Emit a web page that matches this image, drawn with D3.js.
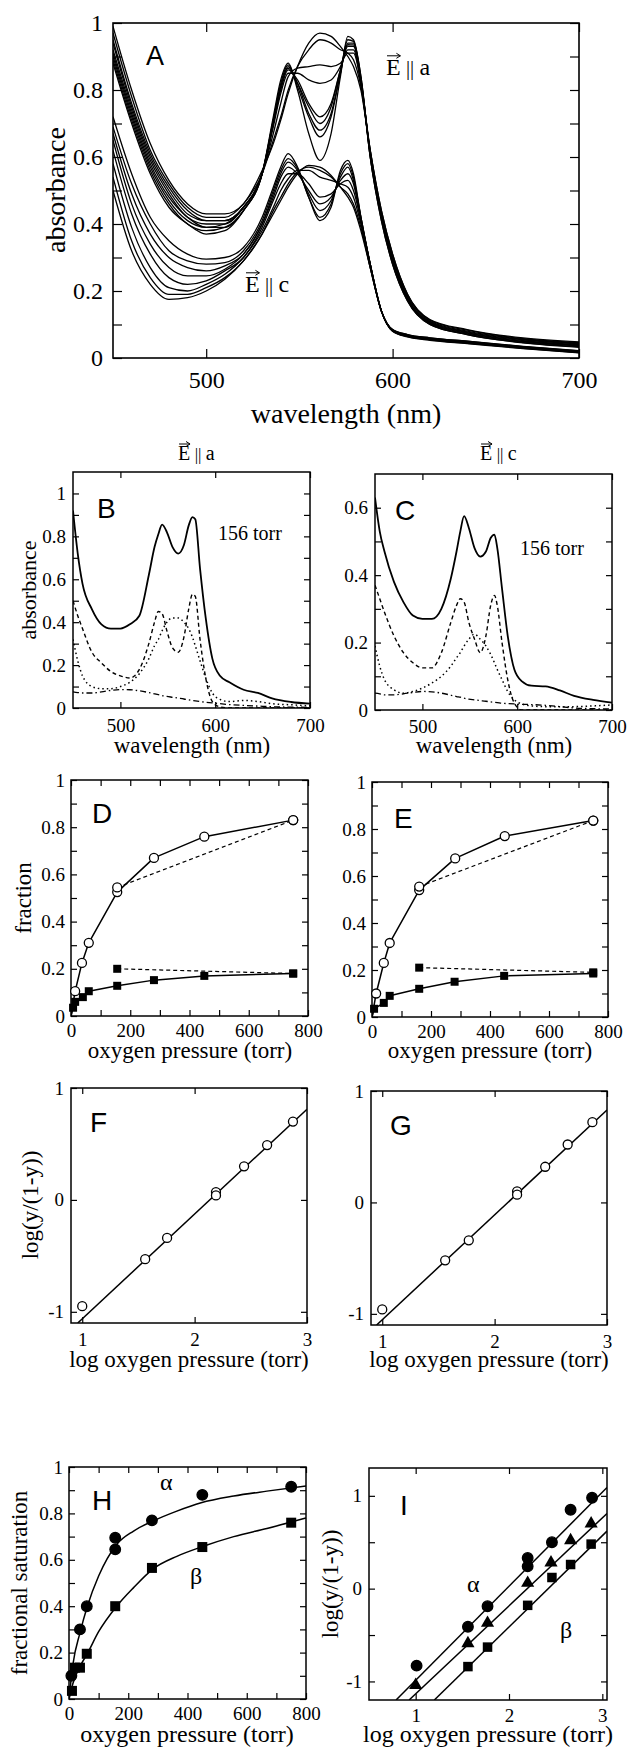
<!DOCTYPE html>
<html>
<head>
<meta charset="utf-8">
<script src="https://cdn.jsdelivr.net/npm/d3@7"></script>
<style>
body { margin: 0; background: #fff; }
svg text { font-family: "Liberation Serif", "Times New Roman", serif; fill: #000; }
svg text.letter { font-family: "Liberation Sans", Arial, sans-serif; }
</style>
</head>
<body>
<svg id="fig" width="628" height="1749"></svg>
<script>
//Data - panel A (wavelength grid, absorbance per curve)
const wlA = [450,460,470,480,490,500,510,520,530,536,540,544,549,555,561,567,572,576,579,583,588,594,600,608,620,640,670,700];
const absEa = [
  [.99,.80,.64,.53,.46,.43,.43,.46,.56,.64,.71,.79,.87,.94,.97,.96,.93,.90,.87,.80,.62,.44,.31,.19,.115,.085,.06,.048],
  [.97,.78,.62,.52,.45,.42,.42,.46,.55,.65,.72,.80,.87,.92,.95,.94,.92,.91,.89,.81,.62,.44,.31,.19,.113,.083,.058,.046],
  [.95,.76,.61,.51,.44,.41,.41,.45,.55,.67,.76,.84,.865,.87,.875,.87,.88,.91,.91,.82,.62,.43,.30,.185,.11,.08,.056,.044],
  [.94,.75,.60,.50,.43,.41,.41,.45,.55,.69,.79,.85,.85,.83,.82,.83,.87,.92,.92,.82,.61,.43,.30,.18,.108,.078,.054,.042],
  [.92,.74,.59,.49,.42,.40,.40,.45,.55,.70,.80,.86,.83,.76,.72,.76,.86,.93,.93,.83,.61,.42,.29,.18,.106,.076,.052,.04],
  [.91,.73,.58,.48,.42,.39,.40,.45,.55,.70,.81,.865,.82,.75,.70,.75,.86,.935,.935,.83,.61,.42,.29,.175,.104,.074,.05,.038],
  [.90,.72,.57,.47,.41,.39,.39,.44,.55,.71,.81,.87,.82,.73,.68,.73,.85,.94,.94,.83,.60,.42,.285,.175,.102,.072,.048,.036],
  [.89,.71,.56,.46,.40,.38,.39,.44,.55,.71,.82,.875,.81,.72,.66,.72,.85,.95,.945,.84,.60,.41,.28,.17,.10,.07,.046,.034],
  [.88,.70,.55,.45,.40,.37,.38,.44,.55,.72,.83,.88,.80,.67,.59,.67,.84,.96,.95,.84,.60,.41,.28,.17,.10,.07,.045,.032]
];
const absEc = [
  [.50,.32,.22,.175,.18,.20,.235,.29,.37,.43,.47,.51,.55,.575,.57,.545,.51,.48,.45,.38,.27,.14,.085,.07,.06,.05,.035,.022],
  [.54,.35,.24,.19,.19,.21,.24,.29,.37,.44,.48,.52,.555,.57,.56,.54,.51,.49,.46,.39,.27,.14,.085,.07,.06,.05,.034,.021],
  [.58,.39,.27,.21,.20,.22,.25,.30,.38,.45,.50,.535,.56,.56,.54,.53,.52,.51,.48,.40,.27,.14,.084,.068,.058,.048,.033,.02],
  [.62,.43,.31,.24,.22,.23,.26,.30,.39,.47,.52,.55,.55,.52,.48,.49,.52,.53,.50,.41,.28,.14,.083,.067,.057,.047,.032,.019],
  [.65,.46,.34,.27,.245,.245,.265,.31,.40,.48,.54,.57,.55,.50,.46,.48,.53,.55,.52,.41,.28,.14,.082,.066,.056,.046,.031,.018],
  [.67,.49,.37,.30,.27,.26,.275,.31,.40,.49,.55,.585,.56,.49,.44,.47,.54,.57,.53,.42,.28,.14,.081,.065,.055,.045,.03,.017],
  [.69,.52,.40,.32,.29,.28,.285,.32,.41,.50,.56,.595,.565,.48,.42,.46,.55,.58,.54,.42,.28,.14,.08,.064,.054,.044,.029,.016],
  [.72,.55,.42,.35,.31,.295,.30,.33,.42,.51,.57,.61,.57,.48,.41,.45,.56,.59,.55,.42,.28,.14,.08,.063,.053,.043,.028,.015]
];

//Data - panels B, C (156 torr decomposition)
const wlBC = [450,455,460,470,480,490,500,510,520,530,536,540,544,549,555,561,567,572,576,579,584,590,597,605,615,630,645,660,680,700];
const bSolid   = [.92,.72,.58,.46,.39,.37,.37,.39,.43,.62,.75,.81,.855,.82,.75,.72,.76,.85,.89,.88,.65,.42,.23,.15,.12,.085,.07,.045,.028,.02];
const bDashed  = [.50,.43,.37,.26,.21,.17,.15,.14,.18,.30,.40,.45,.44,.36,.28,.26,.33,.46,.53,.52,.32,.14,.03,.005,0,0,0,0,0,0];
const bDotted  = [.32,.22,.15,.10,.09,.09,.10,.12,.16,.23,.29,.32,.36,.40,.42,.42,.40,.37,.33,.29,.22,.14,.07,.04,.03,.035,.03,.02,.015,.01];
const bDashDot = [.075,.072,.07,.07,.075,.082,.086,.085,.08,.072,.066,.062,.058,.054,.05,.046,.042,.038,.035,.033,.03,.027,.024,.02,.016,.012,.009,.006,.004,.003];
const cSolid   = [.63,.53,.47,.38,.32,.28,.27,.27,.30,.39,.47,.53,.575,.54,.48,.455,.47,.51,.52,.48,.36,.22,.12,.085,.072,.07,.058,.042,.03,.022];
const cDashed  = [.37,.33,.29,.22,.17,.14,.125,.125,.17,.26,.31,.33,.32,.26,.21,.17,.22,.31,.34,.31,.20,.09,.02,0,0,0,0,0,0,0];
const cDotted  = [.19,.13,.09,.06,.05,.055,.065,.08,.10,.13,.155,.17,.19,.21,.225,.21,.19,.165,.14,.12,.09,.055,.03,.018,.012,.01,.01,.01,.012,.015];
const cDashDot = [.05,.048,.045,.045,.048,.052,.055,.054,.05,.044,.04,.038,.035,.032,.03,.028,.026,.024,.023,.022,.02,.019,.018,.017,.016,.014,.01,.006,.004,.003];

//Data - panels D, E (fraction vs oxygen pressure, torr)
const pD_open  = [0,14,37,60,156,280,450,750];
const fD_open  = [0,.105,.225,.31,.525,.67,.76,.83];
const pD_open2 = [156,750];
const fD_open2 = [.545,.83];
const pD_sq    = [0,7,14,40,60,156,280,450,750];
const fD_sq    = [0,.035,.06,.08,.105,.128,.152,.17,.18];
const pD_sq2   = [156,750];
const fD_sq2   = [.20,.18];
const pE_open  = [0,14,40,60,160,282,450,750];
const fE_open  = [0,.10,.23,.315,.54,.675,.77,.836];
const pE_open2 = [160,750];
const fE_open2 = [.555,.836];
const pE_sq    = [0,7,40,60,160,280,448,750];
const fE_sq    = [0,.035,.06,.09,.12,.15,.175,.185];
const pE_sq2   = [160,750];
const fE_sq2   = [.21,.19];

//Data - panels F, G (Hill plots)
const logP_F = [1.0,1.56,1.755,2.19,2.19,2.44,2.645,2.875];
const hill_F = [-.95,-.53,-.34,.07,.04,.30,.49,.70];
const fitF_x = [0.96,3.0];
const fitF_y = [-1.1,0.81];
const logP_G = [1.0,1.56,1.77,2.2,2.2,2.45,2.65,2.87];
const hill_G = [-.96,-.52,-.34,.10,.07,.32,.52,.72];
const fitG_x = [0.95,3.0];
const fitG_y = [-1.1,0.83];

//Data - panel H (fractional saturation, alpha and beta)
const pH_a = [8,37,60,156,156,280,450,750];
const sH_a = [.10,.30,.40,.645,.695,.77,.88,.915];
const pH_b = [10,20,37,60,156,280,450,750];
const sH_b = [.035,.135,.135,.195,.40,.565,.655,.76];
const pFit = [0,14,37,62,100,161,218,283,364,446,556,668,800];
const fitH_a = [0,.155,.285,.40,.53,.666,.724,.767,.81,.846,.875,.896,.918];
const fitH_b = [0,.07,.14,.196,.29,.40,.48,.56,.615,.655,.70,.735,.78];

//Data - panel I (Hill plots, alpha / average / beta)
const logP_Ia = [1.01,1.56,1.77,2.2,2.2,2.46,2.66,2.89];
const hill_Ia = [-.83,-.41,-.19,.33,.24,.50,.85,.98];
const logP_Im = [1.0,1.56,1.77,2.2,2.45,2.66,2.88];
const hill_Im = [-1.04,-.59,-.37,.06,.28,.52,.70];
const logP_Ib = [1.56,1.77,2.2,2.46,2.66,2.88];
const hill_Ib = [-.84,-.63,-.18,.12,.26,.48];
const fitI_x = [[0.79,3.05],[0.93,3.05],[1.2,3.05]];
const fitI_y = [[-1.2,1.09],[-1.2,0.81],[-1.2,0.62]];

//Helpers
const SERIF = '"Liberation Serif", "Times New Roman", serif';
const svg = d3.select("#fig");
const zip = (xs, ys) => xs.map((v, i) => [v, ys[i]]);

function panel(o) {
  let x = d3.scaleLinear().domain(o.xd).range([o.l, o.r]),
      y = d3.scaleLinear().domain(o.yd).range([o.b, o.t]),
      g = svg.append("g"),
      len = o.tick || 6,
      fs = o.fs || 19;
  svg.append("clipPath").attr("id", "clip" + o.name)
    .append("rect").attr("x", o.l).attr("y", o.t).attr("width", o.r - o.l).attr("height", o.b - o.t);
  let plot = g.append("g").attr("clip-path", "url(#clip" + o.name + ")");

  function ax(axis, vals, lab, tr, pad) {
    let a = g.append("g").attr("transform", tr)
      .call(axis.tickValues(vals).tickSizeInner(-len).tickSizeOuter(0).tickPadding(pad || 0)
        .tickFormat(lab ? (d => String(d)) : (() => "")));
    a.select(".domain").remove();
    a.attr("font-size", fs).attr("font-family", null);
    a.selectAll("line").attr("stroke-width", 1.2);
    if (lab) a.selectAll("text").style("font-family", SERIF).style("font-size", fs + "px");
    else a.selectAll("text").remove(); //ticks only, no labels
  }
  let xm = o.xm || [], ym = o.ym || [];
  ax(d3.axisBottom(x), o.xt, true, "translate(0," + o.b + ")", o.xpad);
  ax(d3.axisBottom(x), xm, false, "translate(0," + o.b + ")");
  ax(d3.axisTop(x), o.xt.concat(xm), false, "translate(0," + o.t + ")");
  ax(d3.axisLeft(y), o.yt, true, "translate(" + o.l + ",0)", o.ypad);
  ax(d3.axisLeft(y), ym, false, "translate(" + o.l + ",0)");
  ax(d3.axisRight(y), o.yt.concat(ym), false, "translate(" + o.r + ",0)");
  g.append("rect").attr("x", o.l).attr("y", o.t).attr("width", o.r - o.l).attr("height", o.b - o.t)
    .attr("fill", "none").attr("stroke", "#000").attr("stroke-width", o.fw || 1.5);
  return {g: g, plot: plot, x: x, y: y};
}

function drawLine(p, data, width, dash, curve) {
  let line = d3.line().x(d => p.x(d[0])).y(d => p.y(d[1])).curve(curve || d3.curveLinear);
  p.plot.append("path").datum(data).attr("d", line)
    .attr("fill", "none").attr("stroke", "#000").attr("stroke-width", width)
    .attr("stroke-dasharray", dash || null).attr("stroke-linejoin", "round");
}

function circles(p, data, r, filled) {
  p.g.selectAll(null).data(data.filter(d => d[0] > 0)).enter().append("circle")
    .attr("cx", d => p.x(d[0])).attr("cy", d => p.y(d[1])).attr("r", r)
    .attr("fill", filled ? "#000" : "#fff").attr("stroke", "#000").attr("stroke-width", 1.3);
}

function squares(p, data, s) {
  p.g.selectAll(null).data(data.filter(d => d[0] > 0)).enter().append("rect")
    .attr("x", d => p.x(d[0]) - s / 2).attr("y", d => p.y(d[1]) - s / 2)
    .attr("width", s).attr("height", s).attr("fill", "#000");
}

function triangles(p, data, s) {
  let sym = d3.symbol().type(d3.symbolTriangle).size(s);
  p.g.selectAll(null).data(data).enter().append("path")
    .attr("d", sym).attr("transform", d => "translate(" + p.x(d[0]) + "," + p.y(d[1]) + ")")
    .attr("fill", "#000");
}

function txt(s, x, y, size, anchor, cls) {
  return svg.append("text").attr("x", x).attr("y", y).attr("font-size", size)
    .attr("text-anchor", anchor || "start").attr("class", cls || null).text(s);
}

function ylab(s, x, cy, size) {
  svg.append("text").attr("transform", "translate(" + x + "," + cy + ") rotate(-90)")
    .attr("font-size", size).attr("text-anchor", "middle").attr("dy", "0.35em").text(s);
}

function eVec(x, y, sub, size, anchor) {
  let t = svg.append("text").attr("y", y).attr("font-size", size);
  t.append("tspan").text("E");
  t.append("tspan").attr("dx", size * 0.22).attr("font-size", size * 0.85).text("||");
  t.append("tspan").attr("dx", size * 0.22).text(sub);
  let w = t.node().getComputedTextLength(),
      x0 = anchor === "middle" ? x - w / 2 : x;
  t.attr("x", x0);
  let ew = size * 0.6, ay = y - size * 0.8;
  svg.append("path")
    .attr("d", "M" + (x0 + 1) + "," + ay + "H" + (x0 + ew) + "M" + (x0 + ew - 4) + "," + (ay - 2.5) + "L" + (x0 + ew) + "," + ay + "L" + (x0 + ew - 4) + "," + (ay + 2.5))
    .attr("fill", "none").attr("stroke", "#000").attr("stroke-width", 1);
}

//Panel A
let pA = panel({name: "A", l: 113, r: 579, t: 23, b: 358, xd: [450, 700], yd: [0, 1],
  xt: [500, 600, 700], yt: [0, .2, .4, .6, .8, 1], ym: [.1, .3, .5, .7, .9],
  tick: 9, fs: 24, xpad: 13, ypad: 10, fw: 1.6});
absEa.concat(absEc).forEach(c => drawLine(pA, zip(wlA, c), 1.3, null, d3.curveMonotoneX));
txt("A", 146, 65, 27, "start", "letter");
eVec(386, 75, "a", 24);
eVec(245, 292, "c", 24);
ylab("absorbance", 55, 190, 28);
txt("wavelength (nm)", 346, 423, 28, "middle");

//Panel B
let pB = panel({name: "B", l: 73, r: 310, t: 472, b: 708, xd: [450, 700], yd: [0, 1.1],
  xt: [500, 600, 700], yt: [0, .2, .4, .6, .8, 1], ym: [.1, .3, .5, .7, .9],
  xpad: 11, ypad: 7});
drawLine(pB, zip(wlBC, bSolid), 1.8, null, d3.curveMonotoneX);
drawLine(pB, zip(wlBC, bDashed), 1.4, "4,3", d3.curveMonotoneX);
drawLine(pB, zip(wlBC, bDotted), 1.5, "1.5,3", d3.curveMonotoneX);
drawLine(pB, zip(wlBC, bDashDot), 1.3, "6,3,1.5,3", d3.curveMonotoneX);
txt("B", 97, 518, 28, "start", "letter");
txt("156 torr", 218, 540, 20);
eVec(192, 460, "a", 20, "middle");
ylab("absorbance", 28, 590, 22);
txt("wavelength (nm)", 192, 753, 23, "middle");

//Panel C
let pC = panel({name: "C", l: 375, r: 612, t: 474, b: 710, xd: [450, 700], yd: [0, 0.7],
  xt: [500, 600, 700], yt: [0, .2, .4, .6], ym: [.1, .3, .5],
  xpad: 10, ypad: 7});
drawLine(pC, zip(wlBC, cSolid), 1.8, null, d3.curveMonotoneX);
drawLine(pC, zip(wlBC, cDashed), 1.4, "4,3", d3.curveMonotoneX);
drawLine(pC, zip(wlBC, cDotted), 1.5, "1.5,3", d3.curveMonotoneX);
drawLine(pC, zip(wlBC, cDashDot), 1.3, "6,3,1.5,3", d3.curveMonotoneX);
txt("C", 395, 520, 28, "start", "letter");
txt("156 torr", 520, 555, 20);
eVec(494, 460, "c", 20, "middle");
txt("wavelength (nm)", 494, 753, 23, "middle");

//Panels D, E
const fracOpts = {xd: [0, 800], yd: [0, 1], xt: [0, 200, 400, 600, 800], xm: [100, 300, 500, 700],
  yt: [0, .2, .4, .6, .8, 1], ym: [.1, .3, .5, .7, .9], xpad: 8, ypad: 6};
let pD = panel(Object.assign({name: "D", l: 71, r: 308, t: 780, b: 1016}, fracOpts));
drawLine(pD, zip(pD_open, fD_open), 1.5);
drawLine(pD, zip(pD_open2, fD_open2), 1.2, "4,3");
drawLine(pD, zip(pD_sq, fD_sq), 1.5);
drawLine(pD, zip(pD_sq2, fD_sq2), 1.2, "4,3");
circles(pD, zip(pD_open, fD_open).concat(zip(pD_open2, fD_open2)), 4.5, false);
squares(pD, zip(pD_sq, fD_sq).concat(zip(pD_sq2, fD_sq2)), 8);
txt("D", 92, 823, 28, "start", "letter");
ylab("fraction", 23, 898, 23);
txt("oxygen pressure (torr)", 190, 1058, 23, "middle");

let pE = panel(Object.assign({name: "E", l: 372, r: 608, t: 782, b: 1017}, fracOpts));
drawLine(pE, zip(pE_open, fE_open), 1.5);
drawLine(pE, zip(pE_open2, fE_open2), 1.2, "4,3");
drawLine(pE, zip(pE_sq, fE_sq), 1.5);
drawLine(pE, zip(pE_sq2, fE_sq2), 1.2, "4,3");
circles(pE, zip(pE_open, fE_open).concat(zip(pE_open2, fE_open2)), 4.5, false);
squares(pE, zip(pE_sq, fE_sq).concat(zip(pE_sq2, fE_sq2)), 8);
txt("E", 394, 828, 28, "start", "letter");
txt("oxygen pressure (torr)", 490, 1058, 23, "middle");

//Panels F, G
const hillOpts = {xd: [0.9, 3], yd: [-1.1, 1], xt: [1, 2, 3], yt: [-1, 0, 1], xpad: 10, ypad: 7};
let pF = panel(Object.assign({name: "F", l: 71, r: 307, t: 1088, b: 1323}, hillOpts));
drawLine(pF, zip(fitF_x, fitF_y), 1.5);
circles(pF, zip(logP_F, hill_F), 4.5, false);
txt("F", 90, 1132, 28, "start", "letter");
ylab("log(y/(1-y))", 30, 1205, 23);
txt("log oxygen pressure (torr)", 189, 1367, 23, "middle");

let pG = panel(Object.assign({name: "G", l: 371, r: 607, t: 1091, b: 1325}, hillOpts));
drawLine(pG, zip(fitG_x, fitG_y), 1.5);
circles(pG, zip(logP_G, hill_G), 4.5, false);
txt("G", 390, 1135, 28, "start", "letter");
txt("log oxygen pressure (torr)", 489, 1367, 23, "middle");

//Panel H
let pH = panel({name: "H", l: 69, r: 306, t: 1467, b: 1699, xd: [0, 800], yd: [0, 1],
  xt: [0, 200, 400, 600, 800], xm: [100, 300, 500, 700],
  yt: [0, .2, .4, .6, .8, 1], ym: [.1, .3, .5, .7, .9], xpad: 8, ypad: 6});
drawLine(pH, zip(pFit, fitH_a), 1.5, null, d3.curveMonotoneX);
drawLine(pH, zip(pFit, fitH_b), 1.5, null, d3.curveMonotoneX);
circles(pH, zip(pH_a, sH_a), 5.3, true);
squares(pH, zip(pH_b, sH_b), 10);
txt("H", 92, 1510, 28, "start", "letter");
txt("\u03b1", 160, 1490, 24);
txt("\u03b2", 190, 1584, 24);
ylab("fractional saturation", 19, 1583, 23);
txt("oxygen pressure (torr)", 187, 1742, 24, "middle");

//Panel I
let pI = panel({name: "I", l: 369, r: 607, t: 1468, b: 1700, xd: [0.5, 3.05], yd: [-1.2, 1.3],
  xt: [1, 2, 3], yt: [-1, 0, 1], ym: [-.5, .5], xpad: 9, ypad: 7});
fitI_x.forEach((xs, i) => drawLine(pI, zip(xs, fitI_y[i]), 1.5));
circles(pI, zip(logP_Ia, hill_Ia), 5.3, true);
triangles(pI, zip(logP_Im, hill_Im), 75);
squares(pI, zip(logP_Ib, hill_Ib), 9.5);
txt("I", 400, 1515, 28, "start", "letter");
txt("\u03b1", 467, 1592, 24);
txt("\u03b2", 560, 1638, 24);
ylab("log(y/(1-y))", 330, 1584, 23);
txt("log oxygen pressure (torr)", 488, 1742, 24, "middle");
</script>
</body>
</html>
